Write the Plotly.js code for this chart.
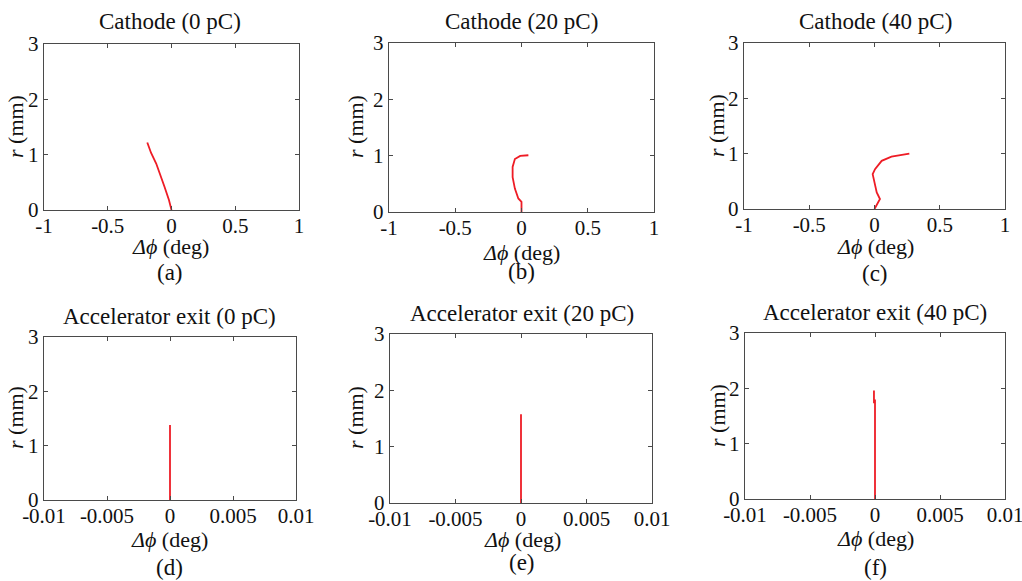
<!DOCTYPE html>
<html>
<head>
<meta charset="utf-8">
<script src="https://cdn.plot.ly/plotly-3.0.1.min.js"></script>
<style>html,body{margin:0;padding:0;background:#fff;}#chart{width:1022px;height:581px;}</style>
</head>
<body>
<div id="chart"></div>
<script>
// ---- Data ----
const panelTitles = ["Cathode (0 pC)", "Cathode (20 pC)", "Cathode (40 pC)",
  "Accelerator exit (0 pC)", "Accelerator exit (20 pC)", "Accelerator exit (40 pC)"];
const panelCaptions = ["(a)", "(b)", "(c)", "(d)", "(e)", "(f)"];

const cathode0_dphi = [0, -0.02, -0.055, -0.09, -0.12, -0.16, -0.19];
const cathode0_r    = [0, 0.18, 0.42, 0.63, 0.84, 1.03, 1.22];

const cathode20_dphi = [0, 0, -0.024, -0.05, -0.067, -0.067, -0.05, -0.01, 0.052];
const cathode20_r    = [0, 0.18, 0.24, 0.415, 0.62, 0.80, 0.94, 0.995, 1.007];

const cathode40_dphi = [0, 0.042, 0.017, -0.014, 0.004, 0.055, 0.13, 0.21, 0.267];
const cathode40_r    = [0, 0.18, 0.30, 0.63, 0.72, 0.87, 0.945, 0.98, 1.0];

const exit0_dphi = [0, 0];
const exit0_r    = [0, 1.38];

const exit20_dphi = [0, 0];
const exit20_r    = [0, 1.575];

const exit40_dphi = [0, 0, null, -0.00008, -0.00008];
const exit40_r    = [0, 1.80, null, 1.73, 1.96];

const cathodeTickVals = [-1, -0.5, 0, 0.5, 1];
const cathodeTickText = ["-1", "-0.5", "0", "0.5", "1"];
const exitTickVals = [-0.01, -0.005, 0, 0.005, 0.01];
const exitTickText = ["-0.01", "-0.005", "0", "0.005", "0.01"];
const rTickVals = [0, 1, 2, 3];

// ---- Layout geometry (pixels) ----
const W = 1022, H = 581;
const boxes = [ // [left, right, top, bottom]
  [44, 299, 44, 210],
  [389, 654, 43, 212],
  [744, 1005, 43, 209],
  [44, 296, 337, 500],
  [390, 652, 334, 503],
  [745, 1005, 333, 499]
];
const titlePos   = [[170, 22], [521, 21], [875, 21], [169, 316], [522, 313], [875, 312]];
const xlabPos    = [[170, 246], [521, 252], [875, 247], [169, 539], [522, 539], [875, 538]];
const capPos     = [[170, 272], [521, 271], [875, 273], [169, 567], [522, 562], [875, 567]];
const ylabPos    = [[15, 127], [355, 127], [716, 126], [15, 418], [355, 418], [717, 416]];

const xs = [cathode0_dphi, cathode20_dphi, cathode40_dphi, exit0_dphi, exit20_dphi, exit40_dphi];
const ys = [cathode0_r, cathode20_r, cathode40_r, exit0_r, exit20_r, exit40_r];

const FONT = "Liberation Serif";
const axisColor = "#4a4a4a";
const traces = [];
const layout = {
  width: W, height: H,
  margin: {l: 0, r: 0, t: 0, b: 0},
  paper_bgcolor: "#fff", plot_bgcolor: "#fff",
  showlegend: false,
  font: {family: FONT, size: 20, color: "#111"},
  annotations: []
};

for (let i = 0; i < 6; i++) {
  const n = i === 0 ? "" : String(i + 1);
  const [l, r, t, b] = boxes[i];
  const isCathode = i < 3;
  traces.push({
    x: xs[i], y: ys[i], type: "scatter", mode: "lines",
    xaxis: "x" + n, yaxis: "y" + n,
    line: {color: "#ee1c25", width: 1.8},
    connectgaps: false, hoverinfo: "x+y"
  });
  const common = {
    showline: true, linecolor: axisColor, linewidth: 1.2, mirror: "ticks",
    ticks: "inside", ticklen: 4, tickcolor: axisColor, tickwidth: 1,
    showgrid: false, zeroline: false, fixedrange: true,
    ticklabeloverflow: "allow",
    tickfont: {family: FONT, size: 21, color: "#111"}
  };
  layout["xaxis" + n] = Object.assign({}, common, {
    domain: [l / W, r / W], anchor: "y" + n,
    range: isCathode ? [-1, 1] : [-0.01, 0.01],
    tickmode: "array", ticklabelstandoff: -3,
    tickvals: isCathode ? cathodeTickVals : exitTickVals,
    ticktext: isCathode ? cathodeTickText : exitTickText
  });
  layout["yaxis" + n] = Object.assign({}, common, {
    domain: [1 - b / H, 1 - t / H], anchor: "x" + n,
    range: [0, 3], tickmode: "array", tickvals: rTickVals,
    ticktext: rTickVals.map(String)
  });
  const ann = (p, text, size, extra) => Object.assign({
    xref: "paper", yref: "paper", x: p[0] / W, y: 1 - p[1] / H,
    xanchor: "center", yanchor: "middle", showarrow: false, text: text,
    borderpad: 0,
    font: {family: FONT, size: size, color: "#111"}
  }, extra || {});
  layout.annotations.push(ann(titlePos[i], panelTitles[i], 23));
  layout.annotations.push(ann(xlabPos[i], "<i>Δϕ</i> (deg)", 22));
  layout.annotations.push(ann(capPos[i], panelCaptions[i], 23));
  layout.annotations.push(ann(ylabPos[i], "<i>r</i> (mm)", 22, {textangle: -90}));
}

Plotly.newPlot("chart", traces, layout, {displayModeBar: false, staticPlot: true});
</script>
</body>
</html>
